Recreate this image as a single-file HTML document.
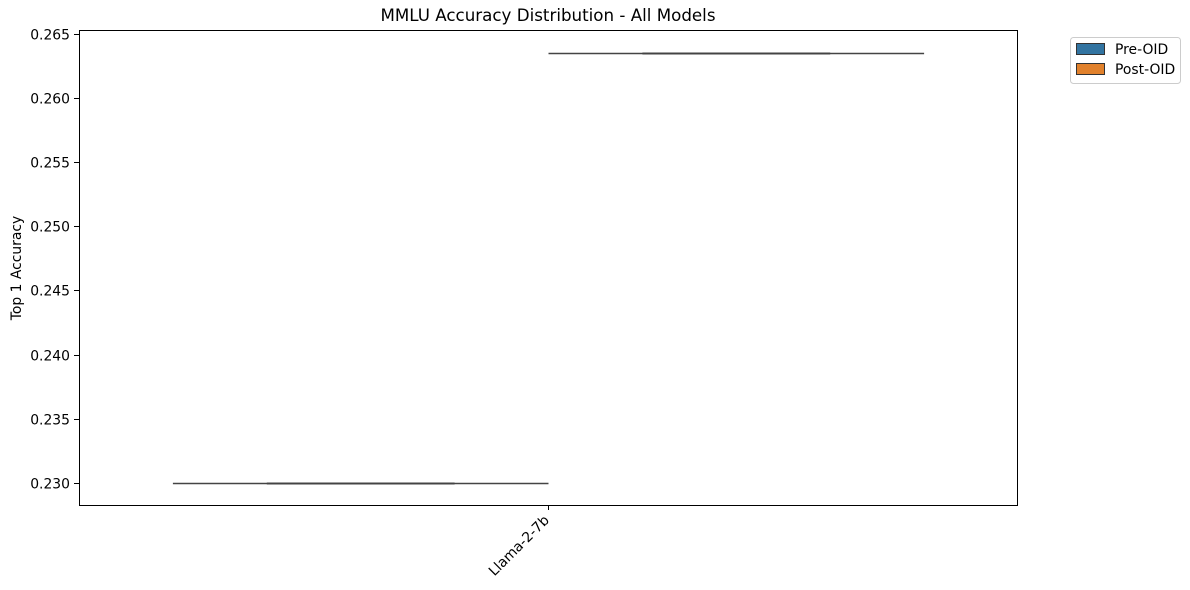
<!DOCTYPE html>
<html><head><meta charset="utf-8"><style>
body{margin:0;background:#fff;}
svg{display:block;font-family:"DejaVu Sans","Liberation Sans",sans-serif;}
</style></head><body>
<svg id="chart" width="1190" height="590">
<text x="548" y="21" text-anchor="middle" font-size="16.7">MMLU Accuracy Distribution - All Models</text>
<g id="yaxis"></g>
<g id="marks"></g>
<rect x="79.5" y="30.5" width="938" height="475" fill="none" stroke="#000" stroke-width="1"/>
<text transform="translate(21,268) rotate(-90)" text-anchor="middle" font-size="13.9">Top 1 Accuracy</text>
<g>
<line x1="548.5" y1="505" x2="548.5" y2="510" stroke="#000"/>
<text transform="translate(550,521) rotate(-45)" text-anchor="end" font-size="13.9">Llama-2-7b</text>
</g>
<g>
<rect x="1070.5" y="37.5" width="110" height="46" rx="3" fill="#fff" stroke="#ccc"/>
<rect x="1076.5" y="43.5" width="28" height="11" fill="#3274a1" stroke="#333"/>
<text x="1115" y="54" font-size="13.9">Pre-OID</text>
<rect x="1076.5" y="63.5" width="28" height="11" fill="#e1812c" stroke="#333"/>
<text x="1115" y="74" font-size="13.9">Post-OID</text>
</g>
</svg>
<script>
const categories = ["Llama-2-7b"];
const groups = ["Pre-OID","Post-OID"];
const preValues = [0.2300];
const postValues = [0.2635];
const yTicks = [0.230,0.235,0.240,0.245,0.250,0.255,0.260,0.265];

const NS="http://www.w3.org/2000/svg";
const y0=483, pxPer=64.2/0.005;
function yScale(v){return y0-(v-0.230)*pxPer;}
const xL=79, xR=1018;
function xCenter(i){return xL+(xR-xL)*(i+0.5)/categories.length;}
function mk(tag,attrs,parent){const e=document.createElementNS(NS,tag);for(const k in attrs)e.setAttribute(k,attrs[k]);parent.appendChild(e);return e;}
const ya=document.getElementById('yaxis');
yTicks.forEach(t=>{
  const y=Math.round(yScale(t))+0.5;
  const l=mk('line',{x1:74,x2:79,y1:y,y2:y,stroke:'#000'},ya);
  
  
  const tx=mk('text',{x:70,y:y+5,'text-anchor':'end','font-size':13.9},ya);
  tx.textContent=t.toFixed(3);
  
  
});
const mg=document.getElementById('marks');
const bandW=(xR-xL)/categories.length*0.8;
categories.forEach((c,i)=>{
  [preValues,postValues].forEach((arr,g)=>{
    const x0=xCenter(i)-bandW/2+g*bandW/2, x1=x0+bandW/2;
    const y=Math.round(yScale(arr[i]))+0.5;
    const w=mk('line',{x1:x0,x2:x1,y1:y,y2:y,stroke:'#444','stroke-width':1.5},mg);
    
    
    const q=(x1-x0)/4;
    const m=mk('line',{x1:x0+q,x2:x1-q,y1:y,y2:y,stroke:'#444','stroke-width':2},mg);
    
    
  });
});
</script>
</body></html>
